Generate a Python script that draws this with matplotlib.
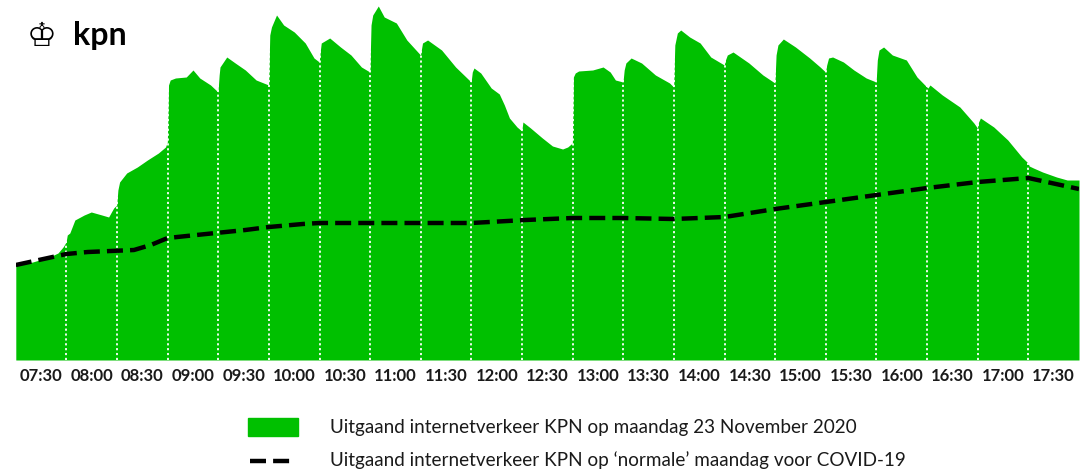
import matplotlib.pyplot as plt
import matplotlib.patches as mpatches
from matplotlib.lines import Line2D

# Minutes since 07:30 and relative outgoing traffic
traffic_min = [0, 10, 20, 25, 28, 29.8,
               30.5, 32, 35, 40.5, 44.7, 51, 55, 58, 59.8,
               60.5, 61.5, 65.7, 72, 78, 84.5, 88.7, 89.8,
               90.5, 91.5, 94.6, 101, 105, 109, 115.4, 119.8,
               120.5, 121, 125, 130, 136, 142.4, 149.8,
               150.5, 151.5, 154.5, 158.7, 165, 171.5, 176.7, 179.8,
               180.5, 181, 186, 192.4, 198.6, 204.8, 209.8,
               210.5, 211.5, 214.8, 218.3, 225.5, 231.7, 239.8,
               240.5, 241, 244, 252.3, 260.6, 269.8,
               270.5, 271.5, 275.5, 281.7, 286.5, 289.5, 292.5, 297, 299.8,
               300.5, 305, 312, 318, 324, 327, 329.8,
               330.4, 331.5, 333.5, 341.8, 348, 352.2, 355.3, 359.8,
               360.5, 361.5, 364.6, 370.8, 379, 387.4, 389.8,
               390.5, 392, 394, 399.3, 405.5, 411.8, 419.8,
               420.5, 421.6, 425, 434.4, 442.7, 449.8,
               450.5, 451.6, 454.8, 462, 470.4, 476.6, 479.8,
               480.5, 481.6, 484, 490.4, 496.6, 503.9, 509.8,
               510.5, 511.5, 514.2, 519.4, 527.7, 534, 539.8,
               540.5, 541.7, 549, 559.4, 567.7, 569.8,
               570.5, 571.6, 579.5, 587.8, 596.1, 599.8,
               600.5, 603, 608.4, 616.7, 623, 630]
traffic_val = [95, 98, 103, 107, 113, 118,
               125, 127, 140, 145, 148, 145, 143, 152, 155,
               170, 178, 187, 193, 200, 207, 213, 218,
               275, 280, 282, 283, 290, 282, 275, 268,
               285, 293, 303, 297, 290, 280, 275,
               325, 333, 345, 335, 328, 317, 302, 298,
               310, 317, 322, 313, 305, 293, 288,
               335, 345, 354, 343, 337, 320, 305,
               312, 317, 320, 310, 293, 278,
               288, 292, 287, 272, 266, 255, 242, 233, 229,
               238, 232, 222, 214, 211, 213, 217,
               283, 287, 289, 290, 293, 288, 280, 278,
               290, 297, 302, 297, 285, 277, 273,
               315, 327, 330, 323, 317, 303, 295,
               300, 305, 308, 297, 285, 277,
               305, 315, 321, 313, 302, 293, 288,
               295, 302, 303, 298, 290, 282, 278,
               300, 310, 313, 305, 300, 283, 273,
               272, 275, 265, 253, 237, 232,
               238, 242, 233, 220, 203, 197,
               194, 192, 188, 183, 180, 180]

# 'Normal' Monday before COVID-19
normal_min = [0, 30, 42.6, 70, 80, 90, 107, 136, 150, 170, 180, 270, 302,
              330, 360, 390, 420, 450, 480, 510, 540, 570, 600, 630]
normal_val = [95, 106, 108, 110, 115, 122, 125, 130, 133, 136, 137, 137, 140,
              142, 142, 141, 143, 151, 158, 165, 172, 178, 182, 171]

tick_labels = ['07:30', '08:00', '08:30', '09:00', '09:30', '10:00', '10:30',
               '11:00', '11:30', '12:00', '12:30', '13:00', '13:30', '14:00',
               '14:30', '15:00', '15:30', '16:00', '16:30', '17:00', '17:30']

green = '#00c000'

fig = plt.figure(figsize=(10.89, 4.72), dpi=100)
ax = fig.add_axes([15.8 / 1089, 112 / 472, (1079 - 15.8) / 1089, 360 / 472])

ax.fill_between(traffic_min, 0, traffic_val, color=green, lw=0)
ax.plot(normal_min, normal_val, color='black', lw=3.2,
        dashes=(3.6, 1.6), solid_capstyle='butt')

# dotted separators every half hour
for i in range(1, len(tick_labels)):
    ax.axvline(i * 30, color='white', lw=1.3, ls=(0, (1.2, 1.5)), zorder=1)

ax.set_xlim(0, 630)
ax.set_ylim(0, 360)
ax.set_xticks([15 + 30 * i for i in range(len(tick_labels))])
ax.set_xticklabels(tick_labels, fontfamily='Lato', fontweight='bold',
                   fontsize=12, color='#1a1a1a')
ax.tick_params(axis='x', length=0, pad=6)
ax.set_yticks([])
for s in ax.spines.values():
    s.set_visible(False)

# logo
fig.text(42 / 1089, 1 - 36 / 472, '\u2654', fontsize=24, ha='center',
         va='center', color='black', fontfamily='DejaVu Sans')
fig.text(73 / 1089, 1 - 36 / 472, 'kpn', fontsize=23, fontweight='bold',
         ha='left', va='center', color='black', fontfamily='Lato')

# legend
fig.patches.append(mpatches.Rectangle((248 / 1089, 1 - 436 / 472), 50 / 1089,
                                      18 / 472, transform=fig.transFigure,
                                      color=green))
fig.lines.append(Line2D([250 / 1089, 296 / 1089], [1 - 461 / 472] * 2,
                        transform=fig.transFigure, color='black', lw=3.2,
                        dashes=(3.6, 1.6)))
fig.text(330 / 1089, 1 - 427 / 472,
         'Uitgaand internetverkeer KPN op maandag 23 November 2020',
         fontsize=13.6, va='center', fontfamily='Lato', color='#1a1a1a')
fig.text(330 / 1089, 1 - 460 / 472,
         'Uitgaand internetverkeer KPN op \u2018normale\u2019 maandag voor COVID-19',
         fontsize=13.6, va='center', fontfamily='Lato', color='#1a1a1a')

fig.savefig('out.png', dpi=100)
